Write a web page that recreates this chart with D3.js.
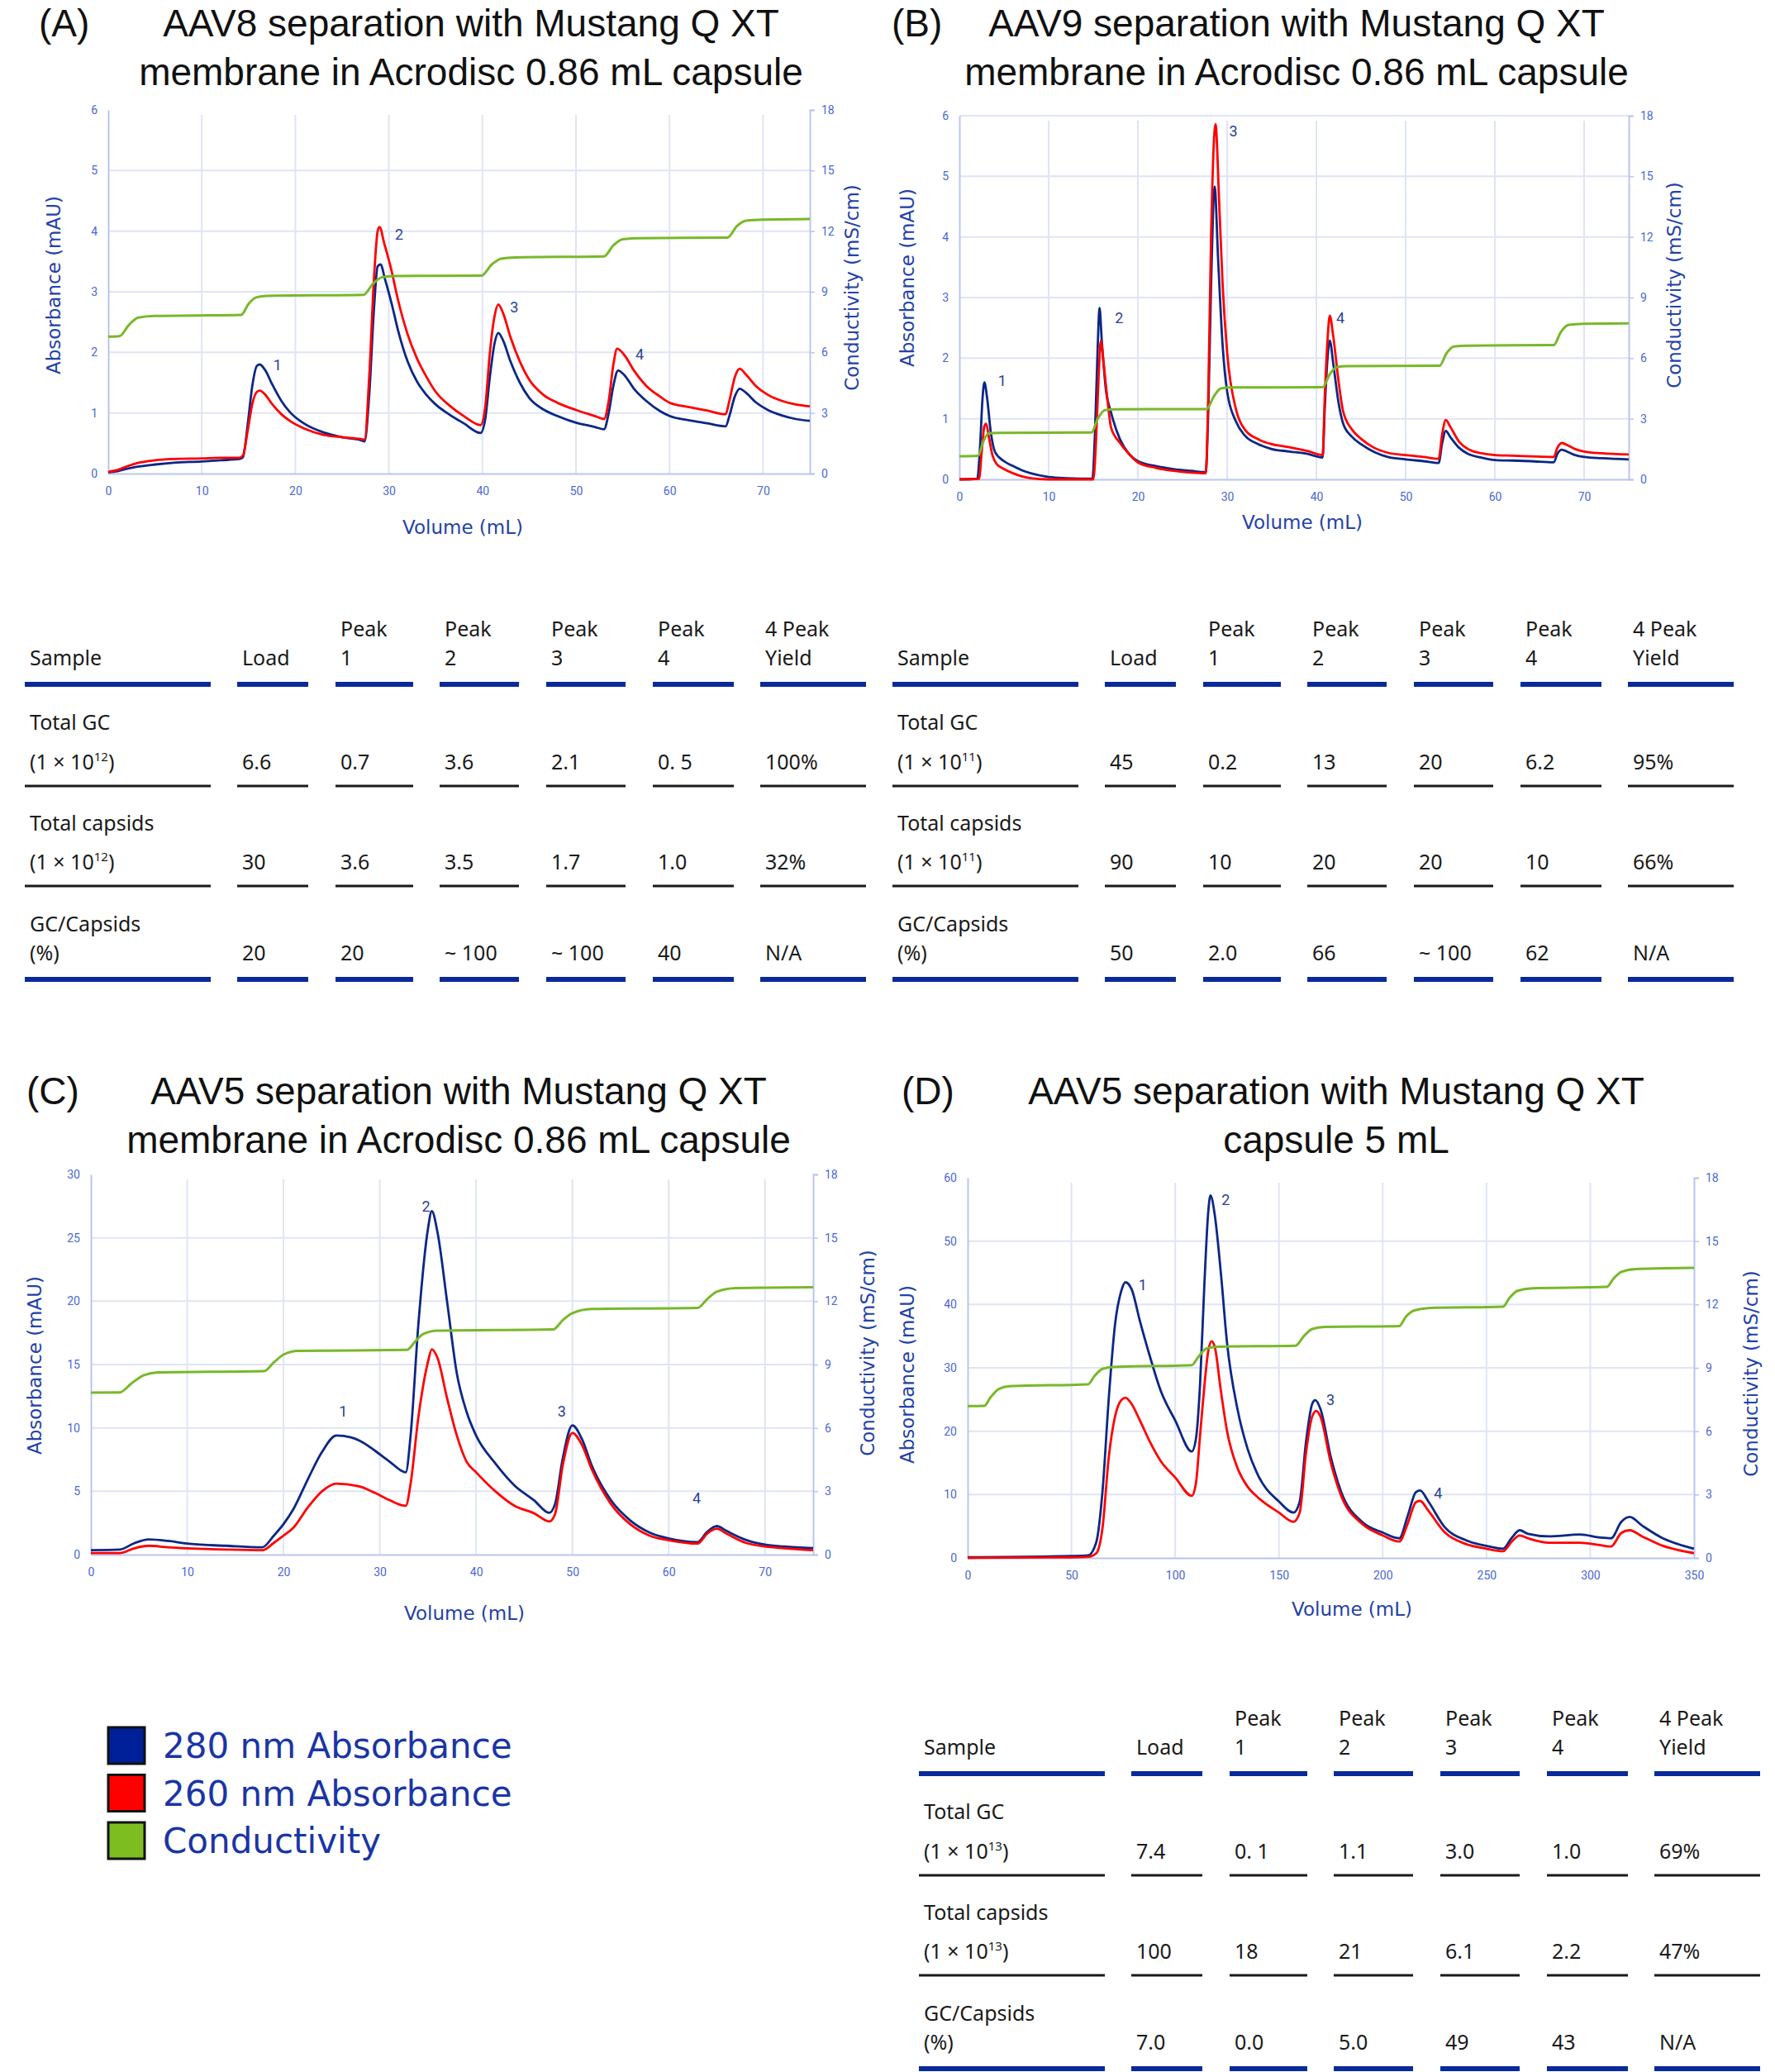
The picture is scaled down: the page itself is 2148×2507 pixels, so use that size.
<!DOCTYPE html>
<html>
<head>
<meta charset="utf-8">
<script src="https://cdn.jsdelivr.net/npm/d3@7"></script>
<style>
  body { margin: 0; background: #fff; }
  svg { display: block; }
</style>
</head>
<body>
<div id="chart"></div>
<script>
// ---- chromatogram traces, [volume mL, value] ----
const a280 = [[0,0.02],[1,0.04],[2,0.08],[3,0.11],[5,0.15],[7,0.18],[10,0.2],[12,0.22],[14,0.24],[14.4,0.27],[14.9,0.8],[15.4,1.45],[15.9,1.78],[16.2,1.8],[16.8,1.7],[17.5,1.48],[18.5,1.2],[19.5,1.0],[21,0.82],[23,0.68],[25,0.6],[27,0.55],[27.4,0.53],[27.9,1.3],[28.4,2.7],[28.8,3.42],[29.1,3.45],[29.6,3.2],[30.3,2.8],[31,2.35],[32,1.85],[33,1.52],[34,1.3],[35,1.14],[36.5,0.97],[38,0.83],[39.8,0.67],[40.3,0.9],[40.8,1.6],[41.3,2.15],[41.7,2.32],[42.2,2.2],[43,1.85],[44,1.5],[45,1.25],[46.5,1.06],[48,0.95],[50,0.84],[52,0.77],[53,0.73],[53.5,1.0],[54,1.45],[54.5,1.7],[55.2,1.62],[56.2,1.4],[57.5,1.2],[59,1.03],[60,0.95],[62,0.88],[64,0.83],[66,0.78],[66.4,0.95],[67,1.28],[67.5,1.4],[68.2,1.33],[69.2,1.18],[70.5,1.05],[72,0.96],[73.5,0.9],[75,0.87]];
const a260 = [[0,0.03],[1,0.06],[2,0.12],[3,0.17],[5,0.22],[7,0.24],[10,0.25],[12,0.26],[14,0.26],[14.4,0.3],[14.9,0.7],[15.4,1.15],[15.9,1.35],[16.2,1.37],[16.8,1.3],[17.5,1.15],[18.5,0.98],[19.5,0.86],[21,0.74],[23,0.64],[25,0.6],[27,0.57],[27.4,0.56],[27.9,1.6],[28.4,3.2],[28.8,4.0],[29.0,4.07],[29.5,3.8],[30.2,3.4],[31,2.85],[32,2.3],[33,1.9],[34,1.6],[35,1.35],[36.5,1.12],[38,0.95],[39.8,0.8],[40.3,1.1],[40.8,2.0],[41.3,2.6],[41.7,2.79],[42.2,2.65],[43,2.25],[44,1.85],[45,1.55],[46.5,1.3],[48,1.17],[50,1.05],[52,0.95],[53,0.9],[53.5,1.2],[54,1.8],[54.4,2.06],[55.2,1.95],[56.2,1.7],[57.5,1.45],[59,1.27],[60,1.17],[62,1.1],[64,1.04],[66,0.98],[66.4,1.2],[67,1.6],[67.5,1.73],[68.2,1.63],[69.2,1.45],[70.5,1.3],[72,1.2],[73.5,1.14],[75,1.11]];
const aCond = [[0,6.78],[1.2,6.8],[2.2,7.35],[3.2,7.72],[5,7.8],[14.2,7.85],[15,8.4],[15.8,8.72],[17,8.8],[27.3,8.85],[28.3,9.4],[29.3,9.72],[30.5,9.78],[39.9,9.8],[41,10.35],[42,10.64],[43.5,10.7],[53,10.75],[54,11.3],[55,11.6],[56.5,11.65],[66.2,11.68],[67.2,12.25],[68.2,12.52],[70,12.57],[75,12.6]];

const b280 = [[0,0],[2.0,0.01],[2.3,0.5],[2.6,1.35],[2.8,1.6],[3.1,1.35],[3.5,0.8],[4,0.45],[5,0.3],[6,0.22],[7,0.15],[8,0.1],[10,0.04],[12,0.02],[14.9,0.01],[15.2,0.8],[15.5,2.2],[15.7,2.83],[15.95,2.3],[16.4,1.5],[17,1.1],[18,0.66],[19,0.42],[20,0.3],[22,0.22],[24,0.17],[26,0.14],[27.6,0.12],[27.9,1.2],[28.2,3.2],[28.6,4.83],[29.0,3.6],[29.5,2.2],[30,1.45],[31,0.95],[32,0.72],[33.5,0.58],[35,0.5],[37,0.46],[39,0.42],[40.7,0.36],[40.95,1.2],[41.25,2.0],[41.5,2.29],[41.9,1.9],[42.5,1.25],[43,0.92],[44,0.7],[45,0.58],[46.5,0.45],[48,0.37],[50,0.33],[52,0.3],[53.7,0.27],[54.1,0.6],[54.5,0.8],[55,0.7],[56,0.52],[57,0.42],[58.5,0.36],[60,0.32],[62,0.31],[64,0.3],[66.6,0.28],[67,0.42],[67.5,0.49],[68.2,0.45],[69,0.4],[70,0.37],[72,0.35],[75,0.33]];
const b260 = [[0,0],[2.2,0.01],[2.5,0.45],[2.8,0.88],[3.0,0.92],[3.3,0.7],[3.7,0.4],[4.2,0.25],[5,0.17],[6,0.1],[7,0.05],[8,0.02],[10,0],[15,0],[15.3,0.6],[15.6,1.7],[15.85,2.29],[16.1,2.0],[16.6,1.3],[17,0.85],[18,0.6],[19,0.42],[20,0.28],[22,0.19],[24,0.14],[26,0.11],[27.6,0.1],[27.9,1.5],[28.2,4.0],[28.7,5.86],[29.1,4.6],[29.5,3.2],[30,2.1],[31,1.15],[32,0.82],[33.5,0.66],[35,0.58],[37,0.53],[39,0.47],[40.7,0.4],[40.95,1.4],[41.25,2.3],[41.5,2.7],[41.9,2.35],[42.5,1.6],[43,1.12],[44,0.82],[45,0.67],[46.5,0.52],[48,0.44],[50,0.4],[52,0.37],[53.7,0.34],[54.1,0.75],[54.5,0.98],[55,0.87],[56,0.62],[57,0.5],[58.5,0.43],[60,0.4],[62,0.39],[64,0.38],[66.6,0.37],[67,0.52],[67.5,0.6],[68.2,0.56],[69,0.5],[70,0.46],[72,0.43],[75,0.41]];
const bCond = [[0,1.15],[2.1,1.17],[2.7,1.9],[3.3,2.28],[4.5,2.3],[14.8,2.32],[15.5,3.0],[16.3,3.43],[17.5,3.47],[27.7,3.48],[28.5,4.1],[29.3,4.5],[30.5,4.55],[40.7,4.56],[41.5,5.2],[42.3,5.56],[43.5,5.6],[53.8,5.62],[54.6,6.25],[55.4,6.58],[57,6.62],[66.6,6.65],[67.4,7.3],[68.3,7.65],[70,7.7],[75,7.72]];

const c280 = [[0,0.35],[3,0.4],[4.5,0.9],[6,1.2],[8,1.08],[10,0.87],[14,0.7],[17.8,0.58],[19,1.5],[20,2.4],[21,3.55],[22.5,5.9],[24,8.1],[25.5,9.4],[27,9.25],[28,8.95],[29.5,8.2],[31,7.35],[32.7,6.5],[33.2,9.4],[34,18.1],[35,25.7],[35.4,27.1],[36,25.4],[37,19.9],[38,14.3],[39,11.3],[40,9.4],[42,7.2],[44,5.45],[46,4.3],[47.6,3.3],[48.2,4.0],[49,7.6],[50,10.2],[51,9.1],[52,7.05],[54,4.3],[56,2.7],[58,1.75],[60,1.28],[63,0.99],[64,1.8],[65,2.25],[66,1.87],[68,1.17],[70,0.79],[72,0.64],[75,0.52]];
const c260 = [[0,0.12],[3,0.12],[4.5,0.5],[6,0.7],[8,0.58],[10,0.5],[14,0.4],[17.8,0.35],[19,0.93],[20,1.5],[21,2.1],[22.5,3.7],[24,5.0],[25.5,5.6],[27,5.5],[28,5.36],[29.5,4.87],[31,4.3],[32.7,3.85],[33.2,5.6],[34,10.8],[35,15.2],[35.4,16.2],[36,15.5],[37,12.3],[38,9.4],[39,7.35],[40,6.5],[42,5.0],[44,3.85],[46,3.27],[47.6,2.62],[48.2,3.2],[49,7.05],[50,9.6],[51,8.65],[52,6.75],[54,4.0],[56,2.4],[58,1.5],[60,1.14],[63,0.87],[64,1.66],[65,2.04],[66,1.66],[68,0.93],[70,0.64],[72,0.5],[75,0.35]];
const cCond = [[0,7.67],[3,7.68],[4.2,8.1],[5.5,8.5],[7,8.63],[18,8.69],[19,9.1],[20,9.47],[21.5,9.65],[32.8,9.69],[33.7,10.1],[34.5,10.44],[36,10.6],[48,10.66],[49,11.1],[50,11.43],[52,11.63],[63,11.68],[64,12.1],[65,12.45],[67,12.62],[75,12.66]];

const d280 = [[0,0.1],[50,0.3],[58,0.4],[62,2.5],[65,10.6],[68,25.2],[71,36.8],[74,42.1],[76,43.5],[79,42.4],[83,37.4],[88,31.6],[93,26.4],[100,21.7],[108,16.8],[110,18.8],[112,27.5],[114,42.7],[116,54.9],[117,57.2],[119,54.3],[122,45],[125,33.9],[130,23.5],[135,17.1],[140,13],[150,8.9],[157,7.16],[160,8.9],[163,18.2],[166,24.3],[167.5,24.9],[170,23.5],[175,15.9],[180,10.4],[190,5.7],[200,4.0],[208,3.1],[212,6.6],[216,10.4],[218,10.65],[222,8.9],[230,4.8],[240,2.8],[250,1.9],[258,1.45],[262,3.1],[266,4.37],[270,3.8],[280,3.4],[295,3.7],[305,3.2],[310,3.1],[315,5.7],[319,6.46],[325,5.1],[335,3.1],[345,1.9],[350,1.45]];
const d260 = [[0,0],[50,0.1],[58,0.17],[62,0.75],[65,4.8],[68,15.9],[71,22.3],[74,24.9],[76,25.3],[79,24.3],[83,21.7],[88,18.2],[93,15.3],[100,12.7],[108,9.8],[110,11.8],[112,19.4],[114,26.9],[116,32.8],[117.5,34.2],[119,33.4],[122,26.4],[125,20],[130,14.2],[135,11.2],[140,9.5],[150,7.16],[157,5.7],[160,7.16],[163,16.5],[166,22.3],[168,23.2],[170,22.3],[175,15],[180,9.8],[190,5.4],[200,3.55],[208,2.6],[212,5.4],[216,8.8],[218,9.0],[222,7.45],[230,4.0],[240,2.2],[250,1.45],[258,1.05],[262,2.5],[266,3.55],[270,3.1],[280,2.4],[295,2.4],[305,2.0],[310,1.8],[315,3.95],[319,4.37],[325,3.4],[335,1.9],[345,1.05],[350,0.75]];
const dCond = [[0,7.19],[8,7.2],[11,7.6],[15,8.0],[20,8.13],[58,8.22],[61,8.6],[65,8.95],[70,9.04],[108,9.13],[111,9.5],[115,9.91],[120,10.0],[158,10.05],[162,10.5],[166,10.84],[172,10.94],[208,10.98],[211,11.4],[215,11.71],[222,11.83],[258,11.9],[261,12.3],[265,12.65],[272,12.77],[308,12.83],[311,13.2],[315,13.54],[322,13.68],[350,13.73]];

// peak number labels [volume, mAU, label]
const aPeaks = [[18.1,1.8,"1"],[31.1,3.95,"2"],[43.4,2.75,"3"],[56.8,1.97,"4"]];
const bPeaks = [[4.8,1.63,"1"],[17.9,2.66,"2"],[30.7,5.75,"3"],[42.7,2.66,"4"]];
const cPeaks = [[26.2,11.3,"1"],[34.8,27.5,"2"],[48.9,11.3,"3"],[62.9,4.5,"4"]];
const dPeaks = [[84.3,43.1,"1"],[124.4,56.6,"2"],[174.8,25,"3"],[226.7,10.2,"4"]];

// tick labels
const volTicks75 = [0,10,20,30,40,50,60,70];
const volTicks350 = [0,50,100,150,200,250,300,350];
const absTicks6 = [0,1,2,3,4,5,6];
const absTicks30 = [0,5,10,15,20,25,30];
const absTicks60 = [0,10,20,30,40,50,60];
const condTicks = [0,3,6,9,12,15,18];

// tables
const tableHeader = [["Sample"],["Load"],["Peak","1"],["Peak","2"],["Peak","3"],["Peak","4"],["4 Peak","Yield"]];
const rowLabels = [["Total GC","unit"],["Total capsids","unit"],["GC/Capsids","(%)"]];
const tableA_GC = ["6.6","0.7","3.6","2.1","0. 5","100%"];
const tableA_Caps = ["30","3.6","3.5","1.7","1.0","32%"];
const tableA_Ratio = ["20","20","~ 100","~ 100","40","N/A"];
const tableB_GC = ["45","0.2","13","20","6.2","95%"];
const tableB_Caps = ["90","10","20","20","10","66%"];
const tableB_Ratio = ["50","2.0","66","~ 100","62","N/A"];
const tableD_GC = ["7.4","0. 1","1.1","3.0","1.0","69%"];
const tableD_Caps = ["100","18","21","6.1","2.2","47%"];
const tableD_Ratio = ["7.0","0.0","5.0","49","43","N/A"];

const legendLabels = ["280 nm Absorbance","260 nm Absorbance","Conductivity"];

// ---- styles ----
const C280 = "#0c2785", C260 = "#ff0000", CCOND = "#78b82a";
const GRID = "#dfe4f6", AXIS = "#b9c5ee", TICK = "#4a68d4", ATITLE = "#2442a8";
const HFONT = "'Liberation Sans', Arial, sans-serif";
const TFONT = "'Noto Sans', 'Liberation Sans', sans-serif";
const CFONT = "'DejaVu Sans', sans-serif";

const svg = d3.select("#chart").append("svg")
    .attr("width", 2148)
    .attr("height", 2507);

const panels = [
  { tag: "(A)", title: ["AAV8 separation with Mustang Q XT", "membrane in Acrodisc 0.86 mL capsule"],
    tagX: 47, titleX: 570, titleY: 44,
    left: 131, right: 980, top: 133, bottom: 573, xMax: 75, yMax: 6,
    xTicks: volTicks75, yTicks: absTicks6, topGrid: false,
    s280: a280, s260: a260, cond: aCond, peaks: aPeaks,
    yLab: [65, 345], cLab: [1031, 348], xLab: [560, 646] },
  { tag: "(B)", title: ["AAV9 separation with Mustang Q XT", "membrane in Acrodisc 0.86 mL capsule"],
    tagX: 1079, titleX: 1569, titleY: 44,
    left: 1161, right: 1971, top: 140, bottom: 580, xMax: 75, yMax: 6,
    xTicks: volTicks75, yTicks: absTicks6, topGrid: true,
    s280: b280, s260: b260, cond: bCond, peaks: bPeaks,
    yLab: [1098, 336], cLab: [2026, 345], xLab: [1576, 640] },
  { tag: "(C)", title: ["AAV5 separation with Mustang Q XT", "membrane in Acrodisc 0.86 mL capsule"],
    tagX: 32, titleX: 555, titleY: 1336,
    left: 110, right: 984, top: 1421, bottom: 1881, xMax: 75, yMax: 30,
    xTicks: volTicks75, yTicks: absTicks30, topGrid: false,
    s280: c280, s260: c260, cond: cCond, peaks: cPeaks,
    yLab: [42, 1652], cLab: [1050, 1637], xLab: [562, 1960] },
  { tag: "(D)", title: ["AAV5 separation with Mustang Q XT", "capsule 5 mL"],
    tagX: 1091, titleX: 1617, titleY: 1336,
    left: 1171, right: 2050, top: 1425, bottom: 1885, xMax: 350, yMax: 60,
    xTicks: volTicks350, yTicks: absTicks60, topGrid: false,
    s280: d280, s260: d260, cond: dCond, peaks: dPeaks,
    yLab: [1098, 1663], cLab: [2119, 1662], xLab: [1636, 1955] }
];

panels.forEach(p => {
    const x = d3.scaleLinear().domain([0, p.xMax]).range([p.left, p.right]);
    const y = d3.scaleLinear().domain([0, p.yMax]).range([p.bottom, p.top]);
    const yc = d3.scaleLinear().domain([0, 18]).range([p.bottom, p.top]);
    const g = svg.append("g");

    // titles
    g.append("text").attr("x", p.tagX).attr("y", p.titleY)
        .attr("font-family", HFONT).attr("font-size", 46).attr("fill", "#111").text(p.tag);
    p.title.forEach((t, i) => {
        g.append("text").attr("x", p.titleX).attr("y", p.titleY + i * 59)
            .attr("text-anchor", "middle")
            .attr("font-family", HFONT).attr("font-size", 46).attr("fill", "#111").text(t);
    });

    // grid
    const hTicks = p.yTicks.filter(v => v > 0 && (p.topGrid || v < p.yMax));
    g.selectAll(null).data(hTicks).enter().append("line")
        .attr("x1", p.left).attr("x2", p.right)
        .attr("y1", d => y(d)).attr("y2", d => y(d))
        .attr("stroke", GRID).attr("stroke-width", 2);
    g.selectAll(null).data(p.xTicks.filter(v => v > 0 && v < p.xMax)).enter().append("line")
        .attr("x1", d => x(d)).attr("x2", d => x(d))
        .attr("y1", p.top + 6).attr("y2", p.bottom)
        .attr("stroke", GRID).attr("stroke-width", 2);

    // axes
    const fmt = d => String(d);
    const ax = g.append("g").attr("transform", `translate(0,${p.bottom})`)
        .call(d3.axisBottom(x).tickValues(p.xTicks).tickFormat(fmt).tickSize(0).tickPadding(16));
    const ay = g.append("g").attr("transform", `translate(${p.left},0)`)
        .call(d3.axisLeft(y).tickValues(p.yTicks).tickFormat(fmt).tickSize(0).tickPadding(13));
    const ac = g.append("g").attr("transform", `translate(${p.right},0)`)
        .call(d3.axisRight(yc).tickValues(condTicks).tickFormat(fmt).tickSize(6).tickPadding(8));
    [ax, ay, ac].forEach(a => {
        a.select(".domain").attr("stroke", AXIS).attr("stroke-width", 2);
        a.selectAll(".tick line").attr("stroke", AXIS).attr("stroke-width", 1.5);
        a.selectAll("text").attr("font-family", "Roboto, sans-serif")
            .attr("font-size", 14).attr("fill", TICK);
    });

    // axis titles
    g.append("text")
        .attr("transform", `translate(${p.yLab[0]},${p.yLab[1]}) rotate(-90)`)
        .attr("text-anchor", "middle").attr("dominant-baseline", "central")
        .attr("font-family", CFONT).attr("font-size", 23).attr("fill", ATITLE)
        .text("Absorbance (mAU)");
    g.append("text")
        .attr("transform", `translate(${p.cLab[0]},${p.cLab[1]}) rotate(-90)`)
        .attr("text-anchor", "middle").attr("dominant-baseline", "central")
        .attr("font-family", CFONT).attr("font-size", 23).attr("fill", ATITLE)
        .text("Conductivity (mS/cm)");
    g.append("text").attr("x", p.xLab[0]).attr("y", p.xLab[1])
        .attr("text-anchor", "middle")
        .attr("font-family", CFONT).attr("font-size", 23).attr("fill", ATITLE)
        .text("Volume (mL)");

    // traces
    const lineAbs = d3.line().x(d => x(d[0])).y(d => y(d[1])).curve(d3.curveMonotoneX);
    const lineCond = d3.line().x(d => x(d[0])).y(d => yc(d[1])).curve(d3.curveMonotoneX);
    g.append("path").datum(p.s280).attr("d", lineAbs)
        .attr("fill", "none").attr("stroke", C280).attr("stroke-width", 2.8);
    g.append("path").datum(p.s260).attr("d", lineAbs)
        .attr("fill", "none").attr("stroke", C260).attr("stroke-width", 2.8);
    g.append("path").datum(p.cond).attr("d", lineCond)
        .attr("fill", "none").attr("stroke", CCOND).attr("stroke-width", 3);

    // peak numbers
    g.selectAll(null).data(p.peaks).enter().append("text")
        .attr("x", d => x(d[0])).attr("y", d => y(d[1]))
        .attr("text-anchor", "middle").attr("dominant-baseline", "central")
        .attr("font-family", "Roboto, sans-serif").attr("font-size", 18)
        .attr("fill", "#2a4199")
        .text(d => d[2]);
});

// ---- tables ----
const cols = [{x:30,w:225},{x:287,w:86},{x:406,w:94},{x:532,w:96},{x:661,w:96},{x:790,w:98},{x:920,w:128}];

function drawTable(dx, base, exp, rows) {
    const g = svg.append("g").attr("font-family", TFONT).attr("font-size", 25).attr("fill", "#1a1a1a");
    tableHeader.forEach((h, i) => {
        const tx = dx + cols[i].x + 6;
        h.forEach((line, j) => {
            g.append("text").attr("x", tx)
                .attr("y", base - (h.length === 2 && j === 0 ? 58 : 23))
                .text(line);
        });
    });
    const thick = [base, base + 357];
    const thin = [base + 123, base + 244];
    cols.forEach(c => {
        thick.forEach(yy => g.append("rect")
            .attr("x", dx + c.x).attr("y", yy - 3).attr("width", c.w).attr("height", 6)
            .attr("fill", "#0a2a99"));
        thin.forEach(yy => g.append("rect")
            .attr("x", dx + c.x).attr("y", yy - 1.5).attr("width", c.w).attr("height", 3)
            .attr("fill", "#1a1a1a"));
    });
    const labelY = [[55, 103], [177, 224], [299, 334]];
    rowLabels.forEach((r, i) => {
        const lx = dx + cols[0].x + 6;
        g.append("text").attr("x", lx).attr("y", base + labelY[i][0]).text(r[0]);
        const t = g.append("text").attr("x", lx).attr("y", base + labelY[i][1]);
        if (r[1] === "unit") {
            t.append("tspan").text("(1 × 10");
            t.append("tspan").attr("dy", -10).attr("font-size", 15).text(exp);
            t.append("tspan").attr("dy", 10).text(")");
        } else {
            t.text(r[1]);
        }
        rows[i].forEach((v, k) => {
            g.append("text").attr("x", dx + cols[k + 1].x + 6)
                .attr("y", base + labelY[i][1]).text(v);
        });
    });
}

drawTable(0, 828, "12", [tableA_GC, tableA_Caps, tableA_Ratio]);
drawTable(1050, 828, "11", [tableB_GC, tableB_Caps, tableB_Ratio]);
drawTable(1082, 2146, "13", [tableD_GC, tableD_Caps, tableD_Ratio]);

// ---- legend ----
const legendColors = ["#00209a", "#ff0000", "#7dbd20"];
legendLabels.forEach((l, i) => {
    const cy = 2112 + i * 57.5;
    svg.append("rect").attr("x", 131).attr("y", cy - 22).attr("width", 44).attr("height", 44)
        .attr("fill", legendColors[i]).attr("stroke", "#111").attr("stroke-width", 3);
    svg.append("text").attr("x", 197).attr("y", cy + 15)
        .attr("font-family", CFONT).attr("font-size", 42).attr("fill", "#1a35a5")
        .text(l);
});
</script>
</body>
</html>
